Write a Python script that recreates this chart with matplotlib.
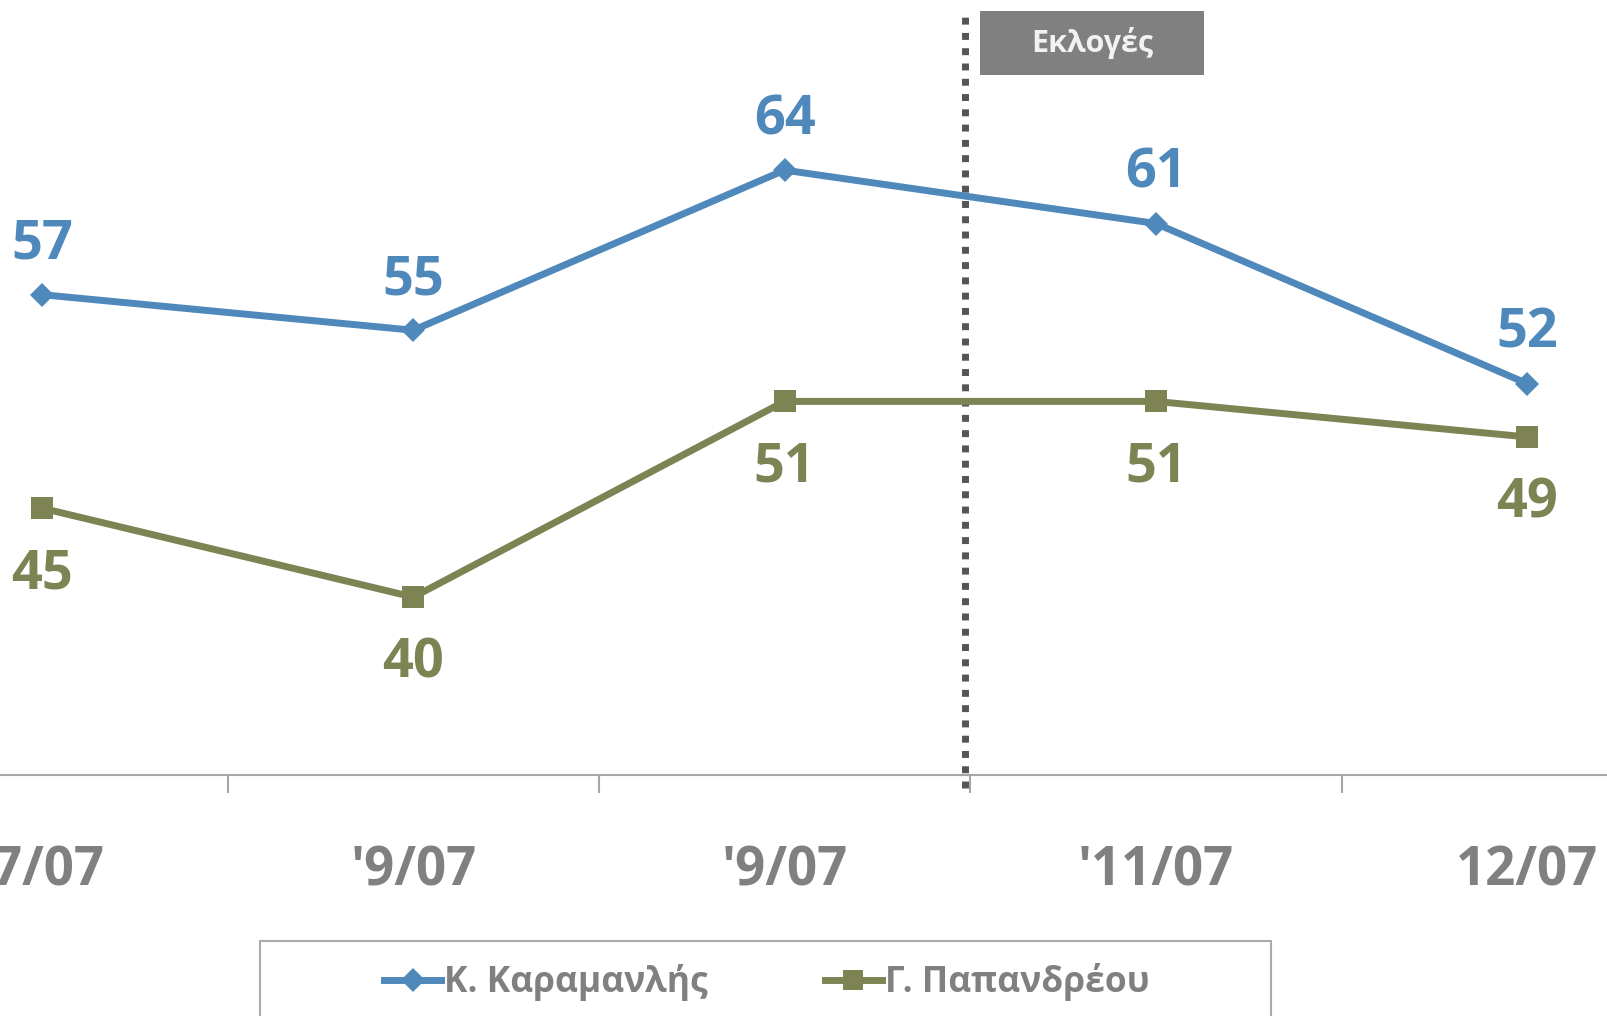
import matplotlib
matplotlib.use("Agg")
import matplotlib.pyplot as plt
from matplotlib.patches import Rectangle
from matplotlib.lines import Line2D

plt.rcParams['font.family'] = ['Open Sans', 'DejaVu Sans']

categories = ["'7/07", "'9/07", "'9/07", "'11/07", "12/07"]
karamanlis = [57, 55, 64, 61, 52]
papandreou = [45, 40, 51, 51, 49]
series_names = ["Κ. Καραμανλής", "Γ. Παπανδρέου"]
election_label = "Εκλογές"
election_pos = 2.486

BLUE = "#4F88BB"
GREEN = "#7E8354"
GRAY = "#808080"

W, H = 1608, 1016
fig = plt.figure(figsize=(W / 100, H / 100), dpi=100)

# axes placement in pixels
x0_px, step_px = 42, 371.3
left_px = x0_px - 0.5 * step_px
width_px = 5 * step_px
bottom_px = 775
ppu = 17.79
top_px = bottom_px - 40 * ppu
ax = fig.add_axes([left_px / W, (H - bottom_px) / H, width_px / W, (bottom_px - top_px) / H])
ax.set_xlim(-0.5, 4.5)
ax.set_ylim(30, 70)

x = list(range(len(categories)))
ax.plot(x, karamanlis, color=BLUE, lw=5, marker='D', ms=12, mew=0, clip_on=False, zorder=3)
ax.plot(x, papandreou, color=GREEN, lw=5, marker='s', ms=16.5, mew=0, clip_on=False, zorder=3)

for xi, v in zip(x, karamanlis):
    ax.annotate(str(v), (xi, v), xytext=(0, 26), textcoords='offset points',
                ha='center', va='baseline', fontsize=39, fontweight='bold', color=BLUE)
for xi, v in zip(x, papandreou):
    ax.annotate(str(v), (xi, v), xytext=(0, -58), textcoords='offset points',
                ha='center', va='baseline', fontsize=39, fontweight='bold', color=GREEN)

# election dotted line
y_lo = 30 - 13 / ppu
y_hi = 30 + (bottom_px - 10) / ppu
ax.plot([election_pos, election_pos], [y_lo, y_hi], color="#555555", lw=5,
        linestyle=(0, (1.0, 1.2)), dash_capstyle='butt', clip_on=False, zorder=2)

# spines and ticks
for s in ['top', 'right', 'left']:
    ax.spines[s].set_visible(False)
ax.spines['bottom'].set_color("#A6A6A6")
ax.spines['bottom'].set_linewidth(1.5)
ax.set_yticks([])
ax.set_xticks(x)
ax.set_xticklabels(categories)
ax.tick_params(axis='x', which='major', length=0, pad=50, labelsize=38, labelcolor=GRAY)
for lbl in ax.get_xticklabels():
    lbl.set_fontweight('bold')
ax.set_xticks([i + 0.5 for i in range(-1, 5)], minor=True)
ax.tick_params(axis='x', which='minor', length=13, width=1.5, color="#A6A6A6", direction='out')

# election box
fig.patches.append(Rectangle((980 / W, (H - 75) / H), 224 / W, 64 / H,
                             transform=fig.transFigure, facecolor=GRAY, edgecolor='none'))
fig.text(1092 / W, 1 - 43 / H, election_label, ha='center', va='center',
         fontsize=22, fontweight='bold', color="#F2F2F2")

# legend frame
fig.patches.append(Rectangle((260 / W, -0.1), 1011 / W, (H - 941) / H + 0.1,
                             transform=fig.transFigure, facecolor='white',
                             edgecolor="#AAAAAA", lw=1.5, zorder=0))
handles = [Line2D([], [], color=BLUE, lw=5, marker='D', ms=12, mew=0),
           Line2D([], [], color=GREEN, lw=5, marker='s', ms=15, mew=0)]
leg = fig.legend(handles, series_names, loc='center', bbox_to_anchor=(767 / W, 1 - 982 / H),
                 ncol=2, frameon=False, handlelength=1.6, handletextpad=0.1,
                 columnspacing=3.3, prop={'size': 25.5, 'weight': 'bold'})
for t in leg.get_texts():
    t.set_color(GRAY)

fig.savefig("out.png", dpi=100)
